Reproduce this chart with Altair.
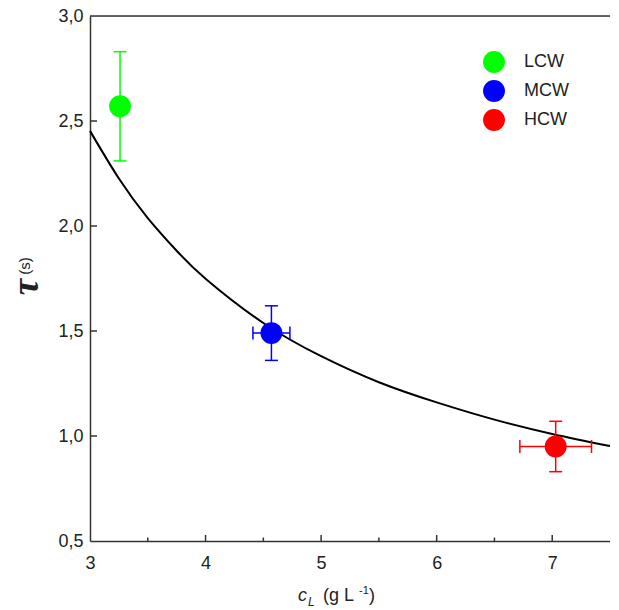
import altair as alt
import pandas as pd

# ---- data ----
samples = ["LCW", "MCW", "HCW"]
colors = ["#00ff00", "#0000ff", "#ff0000"]
c_L = [3.26, 4.57, 7.03]
tau = [2.57, 1.49, 0.95]
tau_err = [0.26, 0.13, 0.12]
c_err = [0.0, 0.16, 0.31]

# fitted curve
curve_c = [3.0, 3.25, 3.5, 3.75, 4.0, 4.5, 5.0, 5.5, 6.0, 6.5, 7.0, 7.5]
curve_tau = [2.453, 2.226, 2.038, 1.882, 1.749, 1.538, 1.380, 1.256, 1.160, 1.078,
             1.010, 0.952]

x_ticks = [3, 4, 5, 6, 7]
x_minor = [3.5, 4.5, 5.5, 6.5]
y_ticks = [0.5, 1.0, 1.5, 2.0, 2.5, 3.0]
y_inner_ticks = [1.0, 1.5, 2.0, 2.5]

W, H = 520, 525
FONT = "Liberation Sans"
TXT = "#222222"
AX = "#333333"

pts = pd.DataFrame({"sample": samples, "c": c_L, "tau": tau,
                    "tau_err": tau_err, "c_err": c_err})
curve = pd.DataFrame({"c": curve_c, "tau": curve_tau})

xs = alt.Scale(domain=[3, 7.5], nice=False, zero=False)
ys = alt.Scale(domain=[0.5, 3.0], nice=False, zero=False)
cs = alt.Scale(domain=samples, range=colors)

x_axis = alt.Axis(values=x_ticks, format=".0f", title=None, grid=False, ticks=False, tickSize=0,
                  labelFontSize=18, labelColor=TXT, labelFont=FONT, labelPadding=13,
                  labelFlush=False, domainColor=AX, domainWidth=1.5)
y_axis = alt.Axis(values=y_ticks, title=None, grid=False, ticks=False, tickSize=0,
                  labelFontSize=18, labelColor=TXT, labelFont=FONT, labelPadding=7,
                  labelFlush=False, domainColor=AX, domainWidth=1.5,
                  labelExpr="replace(format(datum.value, '.1f'), '.', ',')")

base = alt.Chart(pts).transform_calculate(
    t_lo="datum.tau - datum.tau_err", t_hi="datum.tau + datum.tau_err",
    c_lo="datum.c - datum.c_err", c_hi="datum.c + datum.c_err")

color_nolegend = alt.Color("sample:N", scale=cs, legend=None)

curve_line = alt.Chart(curve).mark_line(color="black", strokeWidth=2, interpolate="natural").encode(
    x=alt.X("c:Q", scale=xs, axis=x_axis),
    y=alt.Y("tau:Q", scale=ys, axis=y_axis))

v_bar = base.mark_rule(strokeWidth=1.5).encode(
    x=alt.X("c:Q", scale=xs), y=alt.Y("t_lo:Q", scale=ys), y2="t_hi:Q", color=color_nolegend)
v_cap_lo = base.mark_tick(orient="horizontal", size=13, thickness=1.5, opacity=1).encode(
    x=alt.X("c:Q", scale=xs), y=alt.Y("t_lo:Q", scale=ys), color=color_nolegend)
v_cap_hi = base.mark_tick(orient="horizontal", size=13, thickness=1.5, opacity=1).encode(
    x=alt.X("c:Q", scale=xs), y=alt.Y("t_hi:Q", scale=ys), color=color_nolegend)

hbase = base.transform_filter("datum.c_err > 0")
h_bar = hbase.mark_rule(strokeWidth=1.5).encode(
    x=alt.X("c_lo:Q", scale=xs), x2="c_hi:Q", y=alt.Y("tau:Q", scale=ys), color=color_nolegend)
h_cap_lo = hbase.mark_tick(orient="vertical", size=13, thickness=1.5, opacity=1).encode(
    x=alt.X("c_lo:Q", scale=xs), y=alt.Y("tau:Q", scale=ys), color=color_nolegend)
h_cap_hi = hbase.mark_tick(orient="vertical", size=13, thickness=1.5, opacity=1).encode(
    x=alt.X("c_hi:Q", scale=xs), y=alt.Y("tau:Q", scale=ys), color=color_nolegend)

points = base.mark_circle(size=480, opacity=1).encode(
    x=alt.X("c:Q", scale=xs), y=alt.Y("tau:Q", scale=ys),
    color=alt.Color("sample:N", scale=cs, sort=samples,
                    legend=alt.Legend(title=None, orient="none", legendX=393, legendY=35,
                                      symbolType="circle", symbolSize=480, symbolStrokeWidth=0,
                                      symbolOpacity=1,
                                      labelFontSize=18, labelFont=FONT, labelColor=TXT,
                                      labelOffset=19, rowPadding=7, padding=0)))

# frame: top border and inward ticks
top_border = alt.Chart(pd.DataFrame({"v": [3.0]})).mark_rule(color=AX, strokeWidth=1.5).encode(
    y=alt.Y("v:Q", scale=ys), x=alt.value(0), x2=alt.value(W))
xt_major = alt.Chart(pd.DataFrame({"v": x_ticks[1:]})).mark_rule(color=AX, strokeWidth=1.5).encode(
    x=alt.X("v:Q", scale=xs), y=alt.value(H), y2=alt.value(H - 6))
xt_minor = alt.Chart(pd.DataFrame({"v": x_minor})).mark_rule(color=AX, strokeWidth=1.5).encode(
    x=alt.X("v:Q", scale=xs), y=alt.value(H), y2=alt.value(H - 3.5))
yt = alt.Chart(pd.DataFrame({"v": y_inner_ticks})).mark_rule(color=AX, strokeWidth=1.5).encode(
    y=alt.Y("v:Q", scale=ys), x=alt.value(0), x2=alt.value(7))

# axis titles as text
one = pd.DataFrame({"k": [0]})
def txt(s, x, y, size, italic=False, bold=False, font=FONT, angle=0, align="left", baseline="alphabetic"):
    kw = dict(text=s, fontSize=size, font=font, color=TXT, align=align, baseline=baseline, angle=angle)
    if italic:
        kw["fontStyle"] = "italic"
    if bold:
        kw["fontWeight"] = "bold"
    return alt.Chart(one).mark_text(**kw).encode(x=alt.value(x), y=alt.value(y))

titles = [
    txt("c", 208, 585, 18, italic=True),
    txt("L", 218, 590, 12, italic=True),
    txt("(g L", 233, 585, 18),
    txt("-1", 269, 578, 11),
    txt(")", 279, 585, 18),
    txt("τ", -63, 271, 37, italic=True, bold=True, font="Liberation Serif", angle=270,
        align="center", baseline="middle"),
    txt("(s)", -65, 250, 15, angle=270, align="center", baseline="middle"),
]

chart = alt.layer(curve_line, v_bar, v_cap_lo, v_cap_hi, h_bar, h_cap_lo, h_cap_hi, points,
                  top_border, xt_major, xt_minor, yt, *titles).properties(
    width=W, height=H,
    autosize=alt.AutoSizeParams(type="none"),
    padding={"left": 82, "top": 8, "right": 0, "bottom": 69},
).resolve_legend(color="independent").configure_view(stroke=None).configure(background="white")

chart.save("out.html", embed_options={"renderer": "svg", "actions": False})
